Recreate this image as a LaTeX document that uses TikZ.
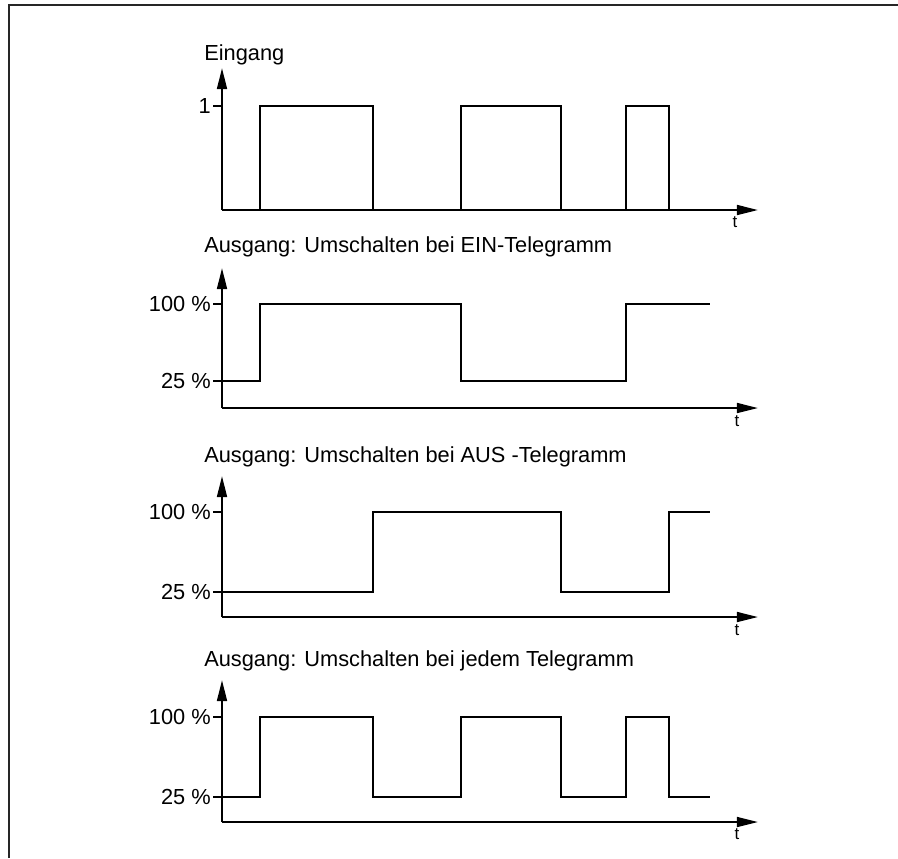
\documentclass[tikz,border=0pt]{standalone}
\usepackage{fontspec}
\setmainfont{Liberation Sans}
\usetikzlibrary{arrows.meta, positioning}
\tikzset{
  frameline/.style={line width=1.3pt, draw=black!85},
  axis/.style={line width=1.5pt, -{Triangle[length=15pt, width=7pt]}},
  signal/.style={line width=1.4pt, line join=miter},
  tick/.style={line width=1.4pt},
  lbl/.style={inner sep=0pt, font=\fontsize{15.5}{18}\selectfont},
  tlbl/.style={inner sep=0pt, font=\fontsize{12}{14}\selectfont}
}

\begin{document}
\begin{tikzpicture}[x=0.025cm, y=-0.025cm]
  \useasboundingbox (0,0) rectangle (898,858);

  % frame
  \draw[frameline] (9,858) -- (9,5) -- (898,5);

  % Eingang
  \coordinate (o1) at (222,210);
  \coordinate (y1) at (222,68);
  \coordinate (x1) at (758,210);
  \draw[axis] (o1) -- (y1);
  \draw[axis] (o1) -- (x1);
  \node[lbl, anchor=west] (in) at (204,55) {Eingang};
  \node[lbl, anchor=east] (one) at (211,106) {1};
  \draw[tick] (213,106) -- (222,106);
  \node[tlbl] (t1) at (735,222) {t};
  \draw[signal] (222,210) -- (260,210) -- (260,106) -- (373,106) -- (373,210)
                -- (461,210) -- (461,106) -- (561,106) -- (561,210)
                -- (626,210) -- (626,106) -- (669,106) -- (669,210);

  % Umschalten bei EIN
  \coordinate (o2) at (222,408);
  \coordinate (y2) at (222,268);
  \coordinate (x2) at (758,408);
  \draw[axis] (o2) -- (y2);
  \draw[axis] (o2) -- (x2);
  \node[lbl, anchor=west] (ein) at (204,247) {Ausgang: Umschalten bei EIN-Telegramm};
  \node[lbl, anchor=east] (hi2) at (211,304) {100 \%};
  \node[lbl, anchor=east] (lo2) at (211,381) {25 \%};
  \draw[tick] (213,304) -- (222,304);
  \node[tlbl] (t2) at (737,421) {t};
  \draw[signal] (213,381) -- (260,381) -- (260,304) -- (461,304) -- (461,381)
                -- (626,381) -- (626,304) -- (710,304);

  % Umschalten bei AUS
  \coordinate (o3) at (222,617);
  \coordinate (y3) at (222,476);
  \coordinate (x3) at (758,617);
  \draw[axis] (o3) -- (y3);
  \draw[axis] (o3) -- (x3);
  \node[lbl, anchor=west] (aus) at (204,457) {Ausgang: Umschalten bei AUS -Telegramm};
  \node[lbl, anchor=east] (hi3) at (211,512) {100 \%};
  \node[lbl, anchor=east] (lo3) at (211,592) {25 \%};
  \draw[tick] (213,512) -- (222,512);
  \node[tlbl] (t3) at (737,630) {t};
  \draw[signal] (213,592) -- (373,592) -- (373,512) -- (561,512) -- (561,592)
                -- (669,592) -- (669,512) -- (710,512);

  % Umschalten bei jedem
  \coordinate (o4) at (222,822);
  \coordinate (y4) at (222,680);
  \coordinate (x4) at (758,822);
  \draw[axis] (o4) -- (y4);
  \draw[axis] (o4) -- (x4);
  \node[lbl, anchor=west] (jed) at (204,661) {Ausgang: Umschalten bei jedem Telegramm};
  \node[lbl, anchor=east] (hi4) at (211,717) {100 \%};
  \node[lbl, anchor=east] (lo4) at (211,797) {25 \%};
  \draw[tick] (213,717) -- (222,717);
  \node[tlbl] (t4) at (737,834) {t};
  \draw[signal] (213,797) -- (260,797) -- (260,717) -- (373,717) -- (373,797)
                -- (461,797) -- (461,717) -- (561,717) -- (561,797)
                -- (626,797) -- (626,717) -- (669,717) -- (669,797) -- (710,797);

\end{tikzpicture}
\end{document}
